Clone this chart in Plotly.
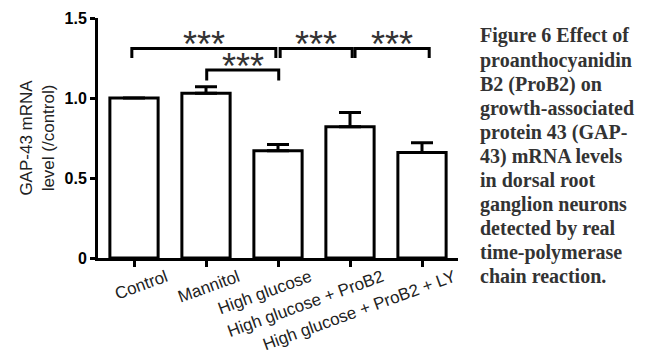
import plotly.graph_objects as go

# Relative GAP-43 mRNA expression (mean + SEM)
groups = ["Control", "Mannitol", "High glucose", "High glucose + ProB2", "High glucose + ProB2 + LY"]
means = [1.00, 1.03, 0.67, 0.82, 0.66]
sems = [0.00, 0.04, 0.04, 0.09, 0.06]

# Significance comparisons: (left x, right x, bar height, leg bottom, label)
comparisons = [
    (-0.03, 1.97, 1.31, 1.25, "***"),
    (1.01, 2.01, 1.175, 1.11, "***"),
    (2.03, 3.03, 1.31, 1.25, "***"),
    (3.07, 4.10, 1.31, 1.25, "***"),
]

ytick_vals = [0, 0.5, 1.0, 1.5]
ytick_text = ["0", "0.5", "1.0", "1.5"]

caption_lines = [
    "Figure 6 Effect of",
    "proanthocyanidin",
    "B2 (ProB2) on",
    "growth-associated",
    "protein 43 (GAP-",
    "43) mRNA levels",
    "in dorsal root",
    "ganglion neurons",
    "detected by real",
    "time-polymerase",
    "chain reaction.",
]

W, H = 649, 356
L, R, T, B = 98, 191, 18, 98
plot_w, plot_h = W - L - R, H - T - B


def px_to_paper(px, py):
    return (px - L) / plot_w, (H - B - py) / plot_h


x_idx = list(range(len(groups)))

fig = go.Figure()
fig.add_trace(go.Bar(
    x=x_idx, y=means, width=0.67,
    marker=dict(color="white", line=dict(color="black", width=3)),
    error_y=dict(type="data", array=sems, arrayminus=[0] * len(sems),
                 symmetric=False, color="black", thickness=3, width=11),
    showlegend=False,
))

shapes = []
annotations = []
for x0, x1, top, bottom, label in comparisons:
    shapes.append(dict(
        type="path", xref="x", yref="y",
        path=f"M {x0} {bottom} L {x0} {top} L {x1} {top} L {x1} {bottom}",
        line=dict(color="black", width=3),
    ))
    annotations.append(dict(
        x=(x0 + x1) / 2, y=top, xref="x", yref="y", text=label,
        showarrow=False, yanchor="bottom", yshift=-19,
        font=dict(family="Liberation Sans, Arial", size=36, color="#333"),
    ))

# Figure caption to the right of the plot, one annotation per line
line_gap = 24
first_baseline = 42
for i, line in enumerate(caption_lines):
    cx, cy = px_to_paper(478, first_baseline + i * line_gap - 6)
    annotations.append(dict(
        x=cx, y=cy, xref="paper", yref="paper", text=f"<b>{line}</b>",
        showarrow=False, xanchor="left", yanchor="middle", align="left",
        font=dict(family="Liberation Serif, Times New Roman, serif", size=20, color="#333"),
    ))

fig.update_layout(
    width=W, height=H,
    margin=dict(l=L, r=R, t=T, b=B, autoexpand=False),
    plot_bgcolor="white", paper_bgcolor="white",
    shapes=shapes,
    annotations=annotations,
    xaxis=dict(
        range=[-0.5, 4.5], tickvals=x_idx, ticktext=groups, tickangle=-20,
        automargin=False,
        showline=True, linecolor="black", linewidth=3,
        ticks="outside", ticklen=6, tickwidth=3, tickcolor="black",
        ticklabelshift=32, ticklabelstandoff=-6,
        showgrid=False, zeroline=False,
        tickfont=dict(family="Liberation Sans, Arial", size=17, color="#222"),
    ),
    yaxis=dict(
        range=[0, 1.5], tickvals=ytick_vals,
        ticktext=[f"<b>{t}</b>" for t in ytick_text],
        automargin=False,
        showline=True, linecolor="black", linewidth=3,
        ticks="outside", ticklen=5, tickwidth=3, tickcolor="black",
        showgrid=False, zeroline=False,
        tickfont=dict(family="Liberation Sans, Arial", size=16, color="black"),
        title=dict(text="GAP-43 mRNA<br>level (/control)", standoff=6,
                   font=dict(family="Liberation Sans, Arial", size=17, color="#222")),
    ),
)

fig.write_html("out.html")
